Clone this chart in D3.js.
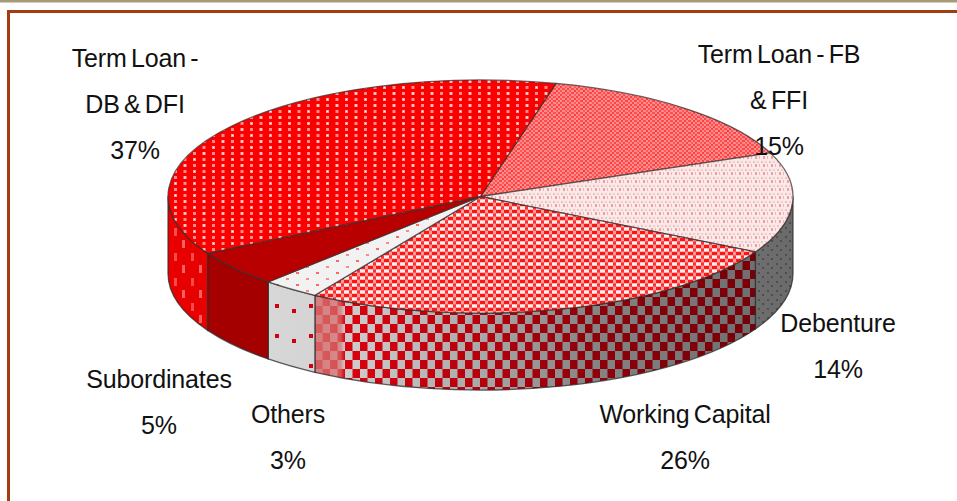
<!DOCTYPE html>
<html>
<head>
<meta charset="utf-8" />
<title>Term loan mix</title>
<script src="https://d3js.org/d3.v7.min.js"></script>
<style>
  html, body { margin: 0; padding: 0; background: #fff; overflow: hidden; }
  text { font-family: "Liberation Sans", Arial, sans-serif; font-size: 25px; fill: #111; letter-spacing: -0.15px; word-spacing: -2.5px; text-anchor: middle; }
</style>
</head>
<body>
<svg id="chart" width="957" height="501"></svg>
<script>
// clockwise from the cut at about 14 degrees past twelve o'clock
var categories = ["Term Loan - FB & FFI", "Debenture", "Working Capital", "Others", "Subordinates", "Term Loan - DB & DFI"];
var shares = [15, 14, 26, 3, 5, 37];
var labelLines = [["Term Loan - FB", "& FFI", "15%"], ["Debenture", "14%"], ["Working Capital", "26%"], ["Others", "3%"], ["Subordinates", "5%"], ["Term Loan -", "DB & DFI", "37%"]];

var labelX = [779, 838, 685, 288, 159, 135],
    labelY = [63, 332, 423, 423, 388, 67],
    lineGap = 46;

var width = 957, height = 501,
    cx = 480.5, cy = 196.5, rx = 312.5, ry = 116.5, depth = 77,
    startDeg = 14;

var svg = d3.select("#chart");
var defs = svg.append("defs");

function pattern(id, w, h, bg, shapes) {
  var p = defs.append("pattern").attr("id", id).attr("patternUnits", "userSpaceOnUse").attr("width", w).attr("height", h);
  p.append("rect").attr("width", w).attr("height", h).attr("fill", bg);
  shapes.forEach(function(s) {
    p.append("rect").attr("x", s[0]).attr("y", s[1]).attr("width", s[2]).attr("height", s[3]).attr("fill", s[4]);
  });
}

// top faces
pattern("topDb", 19, 12, "#fb0000", [[3, 2, 3, 3, "#ffa4a4"], [4, 3, 1, 1, "#fff"], [12.5, 2, 3, 3, "#ff8c8c"], [3, 8, 3, 3, "#ff8c8c"], [12.5, 8, 3, 3, "#ffb8b8"], [13.5, 9, 1, 1, "#fff"]]);
pattern("topFb", 9, 8, "#ff8c8c", [[0, 0, 2, 2, "#ff4040"], [4, 0, 3, 2, "#ff5050"], [2, 2, 2, 2, "#ff5555"], [7, 2, 2, 2, "#ff3a3a"], [0, 4, 2, 2, "#ff5050"], [4, 4, 3, 2, "#ff4646"], [2, 6, 2, 2, "#ff4444"], [7, 6, 2, 2, "#ff5a5a"]]);
pattern("topDeb", 8, 8, "#f6eaea", [[1, 1, 2, 2, "#fbbcbc"], [5, 1, 2, 2, "#f9c8c8"], [3, 4, 2, 3, "#fb9c9c"], [7, 4, 1, 3, "#fbb0b0"]]);
pattern("topWc", 8, 7, "#ff8080", [[0, 0, 5, 3, "#ff1414"], [5, 0, 3, 3, "#ff9a9a"], [0, 3.5, 5, 3, "#fff0f0"], [5, 3.5, 3, 3, "#ff3030"]]);
pattern("topOth", 20, 12, "#f2f2f2", [[6, 2, 3, 2, "#f88"], [16, 8, 3, 2, "#f66"]]);
// side walls
pattern("wallDb", 17, 25, "#f00000", [[4, 3, 3, 8, "#ff4c4c"], [12, 15, 3, 8, "#ff6464"]]);
pattern("wallWc", 15, 18, "#dedede", [[0, 0, 7.5, 9, "#ee0010"], [7.5, 9, 7.5, 9, "#ee0010"]]);
pattern("wallDeb", 9, 9, "#dcdcdc", [[2, 2, 2, 2, "#a89c9c"], [6, 6, 2, 2, "#a89a9a"]]);
pattern("wallOth", 34, 30, "#e4e4e4", [[3, 4, 4, 4, "#e00010"], [20, 9, 4, 4, "#e00010"]]);

var topFills = ["url(#topFb)", "url(#topDeb)", "url(#topWc)", "url(#topOth)", "#b80000", "url(#topDb)"];
var wallFills = [null, "url(#wallDeb)", "url(#wallWc)", "url(#wallOth)", "#ad0000", "url(#wallDb)"];

var rad = Math.PI / 180;
var pie = d3.pie().sort(null).startAngle(startDeg * rad).endAngle((startDeg + 360) * rad);
var slices = pie(shares);

// pie angle runs clockwise from twelve o'clock, squashed onto the ellipse
function px(a) { return cx + rx * Math.sin(a); }
function py(a) { return cy - ry * Math.cos(a); }

function topPath(d) {
  var big = d.endAngle - d.startAngle > Math.PI ? 1 : 0;
  return "M" + cx + "," + cy + "L" + px(d.startAngle) + "," + py(d.startAngle) +
    "A" + rx + "," + ry + " 0 " + big + " 1 " + px(d.endAngle) + "," + py(d.endAngle) + "Z";
}

// the front half only: quarter past to quarter to
function wallRange(d) {
  var a0 = Math.max(d.startAngle, Math.PI / 2), a1 = Math.min(d.endAngle, Math.PI * 1.5);
  return a1 > a0 ? [a0, a1] : null;
}

function wallPath(d) {
  var r = wallRange(d);
  if (!r) return "";
  return "M" + px(r[0]) + "," + py(r[0]) +
    "A" + rx + "," + ry + " 0 0 1 " + px(r[1]) + "," + py(r[1]) +
    "L" + px(r[1]) + "," + (py(r[1]) + depth) +
    "A" + rx + "," + ry + " 0 0 0 " + px(r[0]) + "," + (py(r[0]) + depth) + "Z";
}

// darker to the right
var x = d3.scaleLinear().domain([cx - rx, cx + rx]).range([0, 1]);
var shade = defs.append("linearGradient").attr("id", "shade").attr("gradientUnits", "userSpaceOnUse")
    .attr("x1", cx - rx).attr("x2", cx + rx).attr("y1", 0).attr("y2", 0);
[[cx - rx, 0.03], [350, 0.08], [480, 0.24], [590, 0.4], [700, 0.47], [cx + rx, 0.52]].forEach(function(s) {
  shade.append("stop").attr("offset", x(s[0])).attr("stop-color", "#000").attr("stop-opacity", s[1]);
});

// pale strip where the working capital wall meets the others wall
var wcLeft = px(wallRange(slices[2])[1]);
var band = defs.append("linearGradient").attr("id", "band").attr("gradientUnits", "userSpaceOnUse")
    .attr("x1", wcLeft).attr("x2", wcLeft + 30).attr("y1", 0).attr("y2", 0);
band.append("stop").attr("offset", 0).attr("stop-color", "#e87878").attr("stop-opacity", 0.85);
band.append("stop").attr("offset", 0.85).attr("stop-color", "#e87878").attr("stop-opacity", 0.7);
band.append("stop").attr("offset", 1).attr("stop-color", "#e87878").attr("stop-opacity", 0);

// frame
svg.append("rect").attr("x", 0).attr("y", 0).attr("width", width).attr("height", 2.5).attr("fill", "#a89a78");
svg.append("path").attr("d", "M8.5," + height + "V11.5H" + width)
    .attr("fill", "none").attr("stroke", "#a23c12").attr("stroke-width", 3);

var walls = svg.append("g").selectAll("g")
    .data(slices.filter(function(d) { return wallRange(d); }))
  .enter().append("g");

walls.append("path").attr("d", wallPath).attr("fill", function(d) { return wallFills[d.index]; });
walls.filter(function(d) { return d.index === 2; }).append("path").attr("d", wallPath).attr("fill", "url(#band)");
walls.append("path").attr("d", wallPath).attr("fill", "url(#shade)")
    .attr("stroke", "#2a2a2a").attr("stroke-opacity", 0.75).attr("stroke-width", 1.3);

svg.append("g").selectAll("path")
    .data(slices)
  .enter().append("path")
    .attr("d", topPath)
    .attr("fill", function(d) { return topFills[d.index]; })
    .attr("stroke", "#3a3030").attr("stroke-opacity", 0.75).attr("stroke-width", 1.3)
    .attr("stroke-linejoin", "round")
  .append("title").text(function(d) { return categories[d.index]; });

var labels = svg.append("g").selectAll("text")
    .data(labelLines)
  .enter().append("text")
    .attr("transform", function(d, i) { return "translate(" + labelX[i] + "," + labelY[i] + ")"; });

labels.selectAll("tspan")
    .data(function(d) { return d; })
  .enter().append("tspan")
    .attr("x", 0)
    .attr("y", function(d, i) { return i * lineGap; })
    .text(function(d) { return d; });
</script>
</body>
</html>
